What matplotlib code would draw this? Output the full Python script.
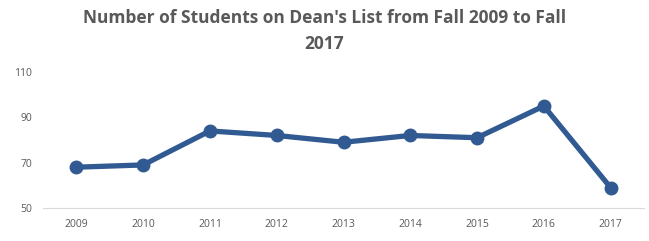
import matplotlib.pyplot as plt

# donnees
years = ['2009', '2010', '2011', '2012', '2013', '2014', '2015', '2016', '2017']
students = [68, 69, 84, 82, 79, 82, 81, 95, 59]

plt.rcParams['font.family'] = ['Open Sans', 'DejaVu Sans']

fig = plt.figure(figsize=(6.49, 2.41), dpi=100)
ax = fig.add_axes([43/649, 1 - 208/241, 601/649, 136/241])

x = range(len(years))
ax.plot(x, students, color='#325A92', linewidth=3.8, marker='o',
        markersize=9, solid_capstyle='round', solid_joinstyle='round')

ax.set_xlim(-0.5, len(years) - 0.5)
ax.set_ylim(50, 110)
ax.set_yticks([50, 70, 90, 110])
ax.set_xticks(list(x))
ax.set_xticklabels(years)

# style excel
for s in ['top', 'right', 'left']:
    ax.spines[s].set_visible(False)
ax.spines['bottom'].set_color('#D9D9D9')
ax.tick_params(length=0, labelsize=7.5, labelcolor='#595959')
ax.tick_params(axis='y', pad=8)
ax.tick_params(axis='x', pad=8)

fig.text(0.5, 1 - 31/241, "Number of Students on Dean's List from Fall 2009 to Fall\n2017",
         ha='center', va='center', fontsize=12.5, fontweight='bold',
         color='#595959', linespacing=1.6)

fig.savefig('out.png', dpi=100)
